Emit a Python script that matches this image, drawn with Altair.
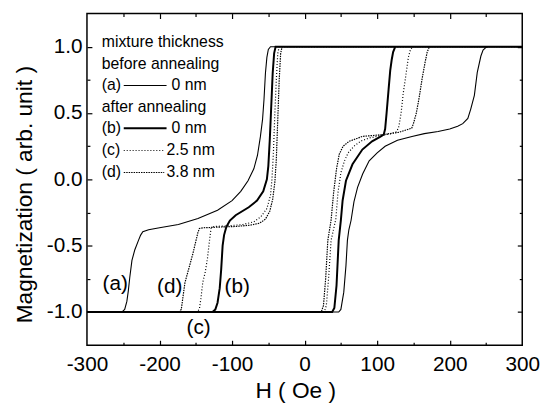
import altair as alt
import pandas as pd

# ---------------- data ----------------
A_DESC_H = [300, -47, -50, -52, -54, -56, -58, -61, -65, -70, -78, -88, -100, -120, -147, -174, -200, -215, -223, -226, -229, -234, -238, -241, -243, -245, -248, -252, -300]
A_DESC_M = [1, 1, 0.98, 0.92, 0.8, 0.6, 0.45, 0.32, 0.18, 0.08, -0.01, -0.09, -0.16, -0.233, -0.295, -0.34, -0.365, -0.38, -0.395, -0.42, -0.46, -0.53, -0.61, -0.74, -0.84, -0.92, -0.98, -1, -1]
A_ASC_H = [-300, 47, 50, 54, 57, 59, 61, 64, 68, 73, 80, 89, 100, 111, 128, 148, 165, 184, 200, 211, 218, 225, 229, 234, 238, 243, 246, 250, 253, 300]
A_ASC_M = [-1, -1, -0.98, -0.85, -0.65, -0.46, -0.38, -0.31, -0.17, -0.06, 0.04, 0.14, 0.2, 0.25, 0.295, 0.324, 0.345, 0.361, 0.38, 0.40, 0.42, 0.46, 0.53, 0.634, 0.807, 0.93, 0.975, 0.995, 1, 1]

B_DESC_H = [300, -40, -42, -44, -46, -48, -50, -52, -57, -65.6, -77, -95, -103, -106, -108, -111, -113, -115, -117, -120, -123, -127, -300]
B_DESC_M = [1, 1, 0.95, 0.8, 0.55, 0.3, 0.1, 0.0, -0.09, -0.16, -0.21, -0.27, -0.31, -0.34, -0.36, -0.42, -0.5, -0.68, -0.82, -0.93, -0.98, -1, -1]
B_ASC_H = [-300, 38, 41, 44, 47, 50, 52.4, 57, 66, 79.6, 93, 104, 109, 111, 113, 115.8, 118, 120, 122, 125, 300]
B_ASC_M = [-1, -1, -0.97, -0.8, -0.46, -0.307, -0.159, -0.01, 0.114, 0.225, 0.287, 0.32, 0.337, 0.38, 0.5, 0.68, 0.82, 0.9, 0.96, 1, 1]

C_DESC_H = [300, -35, -37, -39, -41, -43, -45, -47, -52, -60, -70, -85, -105, -125, -129, -131, -134, -137, -140.4, -143, -145, -148, -300]
C_DESC_M = [1, 1, 0.95, 0.75, 0.5, 0.2, 0.0, -0.12, -0.22, -0.28, -0.32, -0.34, -0.35, -0.355, -0.37, -0.456, -0.6, -0.7, -0.777, -0.9, -0.976, -1, -1]
C_ASC_H = [-300, 27, 30, 33, 36.5, 43, 46, 50, 55, 60, 68, 78, 89, 105, 120, 127, 130, 133, 136, 140, 143, 146, 149, 300]
C_ASC_M = [-1, -1, -0.95, -0.75, -0.46, -0.3, -0.1, 0.05, 0.14, 0.2, 0.25, 0.29, 0.312, 0.33, 0.345, 0.36, 0.4, 0.5, 0.65, 0.8, 0.92, 0.98, 1, 1]

D_DESC_H = [300, -31, -33, -35, -37, -39, -41, -44, -48, -54, -62, -75, -95, -120, -140, -145, -147, -149.5, -154, -160, -165, -168, -170, -173, -300]
D_DESC_M = [1, 1, 0.95, 0.75, 0.45, 0.15, -0.02, -0.15, -0.24, -0.3, -0.33, -0.345, -0.355, -0.36, -0.365, -0.37, -0.4, -0.456, -0.56, -0.68, -0.78, -0.9, -0.98, -1, -1]
D_ASC_H = [-300, 23, 26, 29, 32, 36.5, 40, 44, 47.8, 53, 61.4, 79.6, 107, 130, 147.6, 150, 154, 158, 162, 166, 169, 172, 300]
D_ASC_M = [-1, -1, -0.95, -0.75, -0.46, -0.307, -0.1, 0.08, 0.19, 0.25, 0.287, 0.324, 0.337, 0.355, 0.386, 0.42, 0.5, 0.62, 0.76, 0.88, 0.96, 1, 1]

# legend (inside the plot)
LEG_TEXT = ["mixture thickness", "before annealing", "(a)", "0 nm", "after annealing",
            "(b)", "0 nm", "(c)", "2.5 nm", "(d)", "3.8 nm"]
LEG_H = [-279.6, -279.6, -279.6, -183.5, -279.6, -279.6, -183.5, -279.6, -190.3, -279.6, -190.3]
LEG_M = [1.035, 0.869, 0.708, 0.708, 0.547, 0.386, 0.386, 0.218, 0.218, 0.052, 0.052]
LEG_LINE_SERIES = ["a", "b", "c", "d"]
LEG_LINE_H1 = [-249.3, -249.3, -249.3, -249.3]
LEG_LINE_H2 = [-190.3, -190.3, -193.5, -193.5]
LEG_LINE_M = [0.708, 0.386, 0.218, 0.052]

# curve labels
LAB_TEXT = ["(a)", "(d)", "(b)", "(c)"]
LAB_H = [-261, -186, -93, -146]
LAB_M = [-0.79, -0.815, -0.815, -1.12]

X_LABELS = [-300, -200, -100, 0, 100, 200, 300]
Y_LABELS = [-1.0, -0.5, 0.0, 0.5, 1.0]
X_MAJOR = [-200, -100, 0, 100, 200]
X_MINOR = [-250, -150, -50, 50, 150, 250]
Y_MAJOR = [-1.0, -0.5, 0.0, 0.5, 1.0]
Y_MINOR = [-0.75, -0.25, 0.25, 0.75]

FONT = "Liberation Sans"
STYLE = {
    "a": {"strokeWidth": 1.1},
    "b": {"strokeWidth": 2.0},
    "c": {"strokeWidth": 1.2, "strokeDash": [1, 2]},
    "d": {"strokeWidth": 1.2, "strokeDash": [1.5, 1]},
}
CURVES = {
    "a": (A_DESC_H + A_ASC_H, A_DESC_M + A_ASC_M),
    "b": (B_DESC_H + B_ASC_H, B_DESC_M + B_ASC_M),
    "c": (C_DESC_H + C_ASC_H, C_DESC_M + C_ASC_M),
    "d": (D_DESC_H + D_ASC_H, D_DESC_M + D_ASC_M),
}

xs = alt.Scale(domain=[-300, 300], nice=False, zero=False)
ys = alt.Scale(domain=[-1.25, 1.25], nice=False, zero=False)

layers = []
for s in ["c", "d", "a", "b"]:
    h, m = CURVES[s]
    df = pd.DataFrame({"H": h, "M": m, "i": list(range(len(h)))})
    layers.append(
        alt.Chart(df).mark_line(color="black", interpolate="linear", **STYLE[s]).encode(
            x=alt.X("H:Q", scale=xs, axis=None), y=alt.Y("M:Q", scale=ys, axis=None), order="i:Q")
    )

for s, h1, h2, m in zip(LEG_LINE_SERIES, LEG_LINE_H1, LEG_LINE_H2, LEG_LINE_M):
    df = pd.DataFrame({"H": [h1], "H2": [h2], "M": [m]})
    layers.append(
        alt.Chart(df).mark_rule(color="black", **STYLE[s]).encode(
            x=alt.X("H:Q", scale=xs, axis=None), x2="H2:Q",
            y=alt.Y("M:Q", scale=ys, axis=None))
    )

leg_df = pd.DataFrame({"H": LEG_H, "M": LEG_M, "t": LEG_TEXT})
layers.append(
    alt.Chart(leg_df).mark_text(align="left", baseline="middle", font=FONT, fontSize=16, color="black").encode(
        x=alt.X("H:Q", scale=xs, axis=None), y=alt.Y("M:Q", scale=ys, axis=None), text="t:N")
)
lab_df = pd.DataFrame({"H": LAB_H, "M": LAB_M, "t": LAB_TEXT})
layers.append(
    alt.Chart(lab_df).mark_text(align="center", baseline="middle", font=FONT, fontSize=21, color="black").encode(
        x=alt.X("H:Q", scale=xs, axis=None), y=alt.Y("M:Q", scale=ys, axis=None), text="t:N")
)

main = alt.layer(*layers)

dummy = pd.DataFrame({"H": [0], "M": [0]})

# labelled axes (no ticks)
label_axes = alt.Chart(dummy).mark_point(opacity=0).encode(
    x=alt.X("H:Q", scale=xs, axis=alt.Axis(
        orient="bottom", title="H ( Oe )", values=X_LABELS, ticks=False, domain=False, grid=False,
        labelFlush=False, labelOverlap=False,
        labelExpr="(datum.value < 0 ? '-' : '') + format(abs(datum.value), 'd')",
        labelPadding=9, titlePadding=5, titleX=211)),
    y=alt.Y("M:Q", scale=ys, axis=alt.Axis(
        orient="left", title="Magnetization ( arb. unit )", values=Y_LABELS, ticks=False, domain=False, grid=False,
        labelFlush=False, labelOverlap=False,
        labelExpr="(datum.value < 0 ? '-' : '') + format(abs(datum.value), '.1f')",
        labelPadding=5, titlePadding=10, titleY=183)),
)


# inward tick marks on all four sides (independent axes)
def tick_layer(xorient, yorient, xvals, yvals, size):
    return alt.Chart(dummy).mark_point(opacity=0).encode(
        x=alt.X("H:Q", scale=xs, axis=alt.Axis(
            orient=xorient, values=xvals, labels=False, domain=False, grid=False, title=None,
            tickSize=size, offset=-size, tickColor="black", tickWidth=1.2)),
        y=alt.Y("M:Q", scale=ys, axis=alt.Axis(
            orient=yorient, values=yvals, labels=False, domain=False, grid=False, title=None,
            tickSize=size, offset=-size, tickColor="black", tickWidth=1.2)),
    )


chart = alt.layer(
    main,
    label_axes,
    tick_layer("bottom", "left", X_MAJOR, Y_MAJOR, 5),
    tick_layer("bottom", "left", X_MINOR, Y_MINOR, 3),
    tick_layer("top", "right", X_MAJOR, Y_MAJOR, 5),
    tick_layer("top", "right", X_MINOR, Y_MINOR, 3),
).resolve_scale(x="independent", y="independent").resolve_axis(
    x="independent", y="independent"
).properties(
    width=441, height=336,
    padding={"left": 80, "top": 3, "right": 19, "bottom": 63},
    autosize=alt.AutoSizeParams(type="none"),
).configure_view(
    stroke="black", strokeWidth=1.5
).configure_axis(
    labelFont=FONT, labelFontSize=21, labelColor="black",
    titleFont=FONT, titleFontSize=23, titleFontWeight="normal", titleColor="black",
)

chart.save("out.html", embed_options={"renderer": "svg", "actions": False})
